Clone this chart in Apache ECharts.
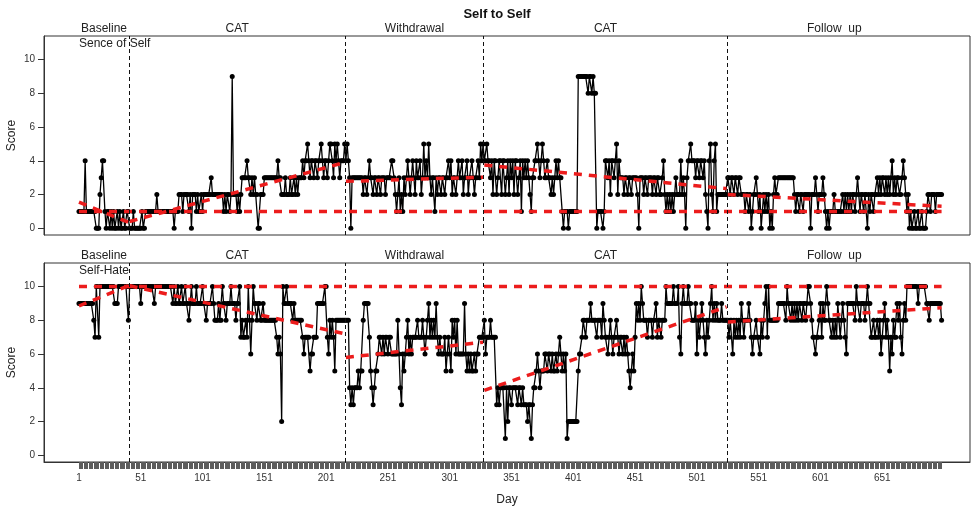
<!DOCTYPE html>
<html><head><meta charset="utf-8">
<script src="https://cdn.jsdelivr.net/npm/echarts@6/dist/echarts.min.js"></script>
<style>html,body{margin:0;padding:0;background:#fff}#c{width:971px;height:507px}</style>
</head><body><div id="c"></div>
<script>
const chartTitle = 'Self to Self';
const panelNames = ['Sence of Self', 'Self-Hate'];
const phaseNames = ['Baseline', 'CAT', 'Withdrawal', 'CAT', 'Follow  up'];
const xTickLabels = [1, 51, 101, 151, 201, 251, 301, 351, 401, 451, 501, 551, 601, 651];
const yTickLabels = [0, 2, 4, 6, 8, 10];

// Sense of Self, daily scores per phase
const selfBaseline = [1,1,1,1,1,4,1,1,1,1, 1,1,1,1,0,0,0,2,3,4, 4,1,0,1,1,0,1,0,1,0, 0,1,0,1,0,0,1,0,0,1, 1];
const selfCat1 = [0,0,0,1,0,0,0,0,0,0, 1,0,0,1,1,1,1,1,1,1, 1,1,2,1,1,1,1,1,1,1, 1,1,1,1,1,1,0,1,1,1,
  2,2,2,1,2,2,2,2,1,2, 0,2,2,2,1,2,1,1,2,1, 2,2,2,2,2,2,3,2,2,2, 2,2,2,2,2,2,1,2,1,2,
  2,1,2,9,2,2,2,1,2,1, 2,3,3,3,3,4,3,3,2,3, 2,3,2,2,0,0,2,2,2,3, 3,3,3,3,3,3,3,3,3,3,
  4,3,3,2,2,2,3,2,2,2, 3,2,2,3,2,3,2,3,3,3, 4,3,4,4,5,4,3,4,4,3, 4,4,3,4,4,5,4,3,4,4,
  3,4,5,5,4,3,5,4,5,4, 3,4,4,4,5];
const selfWithdrawal = [4,5,4,3,0,3,3,3,3,3, 3,3,3,3,2,3,3,2,3,4, 3,3,2,3,3,2,3,3,2,3, 3,3,2,3,3,3,3,4,4,3,
  2,1,2,3,1,2,1,3,2,3, 4,3,2,3,4,3,2,4,3,3, 4,2,3,5,3,4,3,5,3,2, 3,3,1,3,2,3,3,2,3,3,
  2,3,3,4,3,4,2,3,3,2, 3,4,3,3,4,2,3,3,4,2, 3,3,4,3,2,3,3,4,3,5, 4,5];
const selfCat2 = [4,4,5,4,4,3,4,2,4,4, 2,3,4,4,2,4,4,2,3,4, 2,4,3,4,2,4,4,2,3,4, 1,4,3,4,3,4,3,2,1,3,
  3,4,4,5,4,3,4,5,4,3, 3,4,3,3,2,3,2,3,4,3, 4,3,3,1,0,1,1,1,0,1, 1,1,1,1,1,1,9,9,9,9,
  9,9,9,9,8,9,9,8,9,8, 8,0,1,1,1,1,0,1,4,4, 3,4,2,4,4,3,4,5,2,4, 3,3,3,2,3,3,2,3,3,2,
  3,3,3,3,2,0,3,3,3,2, 3,3,2,3,3,3,2,3,3,2, 3,3,2,2,3,4,2,1,2,1, 2,1,2,1,2,3,2,2,2,4,
  2,3,2,0,3,4,4,5,4,4, 4,3,4,4,3,4,4,3,4,2, 1,0,4,5,2,1,4,5,1,2, 2,2,2,2,2,2,2];
const selfFollow = [3,3,2,3,3,2,3,3,2,3, 3,2,2,2,1,2,2,1,2,0, 1,2,2,3,2,1,2,0,1,2, 1,2,1,2,0,1,0,2,3,2,
  2,3,3,3,3,3,3,3,3,3, 3,3,3,3,2,1,2,2,1,2, 2,1,2,2,2,2,2,0,2,2, 2,3,2,1,2,2,2,3,2,1,
  0,1,0,1,1,1,2,1,1,1, 1,1,1,2,1,2,1,2,1,2, 1,2,2,1,2,3,2,1,2,2, 1,2,2,0,2,1,2,2,1,2,
  2,3,2,3,2,3,3,2,3,2, 3,2,3,4,2,3,2,3,3,2, 2,3,4,3,2,1,2,0,1,0, 0,1,0,0,1,0,0,1,0,0,
  0,1,2,2,1,2,2,2,1,2, 2,2,2,2];

// Self-Hate, daily scores per phase
const hateBaseline = [9,9,9,9,9,9,9,9,9,9, 9,9,8,7,10,10,7,10,10,10, 10,10,10,10,10,10,10,10,10,9, 9,9,10,10,10,10,10,10,10,10, 8];
const hateCat1 = [10,10,10,10,10,10,10,10,10,9, 10,10,10,10,10,10,10,10,10,10, 9,10,10,10,10,10,10,10,10,10, 10,10,10,10,10,9,10,9,9,10,
  9,9,10,9,9,10,9,9,8,9, 10,9,9,9,10,9,9,9,9,10, 9,9,8,9,9,9,9,10,9,8, 8,8,9,8,8,10,9,9,8,9,
  9,9,10,9,9,9,8,9,9,10, 7,8,7,7,8,7,10,8,6,8, 10,9,9,8,9,9,8,8,9,8, 8,8,8,8,8,8,8,8,8,7,
  6,7,6,2,10,9,9,10,9,9, 9,9,8,9,8,8,8,8,8,8, 7,6,7,7,7,7,5,6,6,7, 7,7,9,9,9,9,9,9,10,10,
  7,6,8,7,8,7,5,8,8,8, 8,8,8,8,8];
const hateWithdrawal = [8,8,8,4,3,4,3,4,4,4, 5,4,5,5,8,9,9,9,9,7, 5,4,3,4,5,5,6,7,7,6, 7,6,7,7,6,7,7,6,6,6,
  6,6,8,6,4,3,6,5,6,7, 8,6,7,6,7,7,7,7,8,7, 7,7,8,7,6,7,8,9,7,8, 7,8,7,9,7,6,7,6,6,6,
  7,5,6,7,6,5,8,7,8,6, 8,6,6,6,6,6,9,6,5,6, 5,6,5,5,6,5,6,6,7,7, 7,7];
const hateCat2 = [8,6,7,7,7,8,7,7,7,7, 3,4,3,4,4,4,4,1,4,2, 4,4,3,4,4,4,4,3,4,4, 3,4,3,3,3,2,3,3,1,3,
  4,4,5,6,5,4,5,5,5,6, 6,5,6,6,5,6,5,5,6,5, 6,7,6,5,6,5,6,1,2,2, 2,2,2,2,2,2,5,6,6,7,
  8,8,7,8,8,8,9,8,8,8, 8,7,8,8,8,7,9,8,7,7, 6,7,8,7,6,7,7,8,7,6, 7,7,6,7,6,7,6,5,4,5,
  6,5,7,9,8,9,8,10,9,8, 8,8,7,8,8,8,7,8,8,9, 7,8,8,7,8,8,8,10,9,9, 9,9,9,10,9,9,9,10,7,6,
  9,10,9,9,9,10,9,9,8,8, 8,9,6,8,7,8,9,8,7,6, 8,7,8,9,10,8,9,8,9,8, 8,8,9,8,8,8,8];
const hateFollow = [8,7,8,8,6,8,7,8,7,8, 7,9,8,7,8,8,8,9,8,7, 6,7,7,8,7,7,6,8,7,8, 9,10,7,10,8,8,8,8,8,8,
  8,9,9,9,9,9,9,8,10,9, 9,8,9,8,9,8,9,8,9,9, 8,9,9,8,9,10,10,9,8,7, 7,6,7,7,8,9,7,9,8,8,
  10,9,8,8,7,8,7,8,7,9, 8,7,8,9,8,7,6,9,9,9, 9,9,9,8,10,9,9,8,9,9, 9,8,9,10,9,9,7,7,8,7,
  7,8,7,8,6,7,8,9,7,8, 7,5,7,6,8,7,7,9,8,9, 7,6,8,9,8,10,10,10,10,10, 10,10,10,10,9,10,10,10,10,10,
  10,9,9,8,9,9,9,9,9,9, 9,9,9,8];

// Per-phase trend lines (value at first and last day of each phase) and reference level
const selfTrendStart = [1.55, 0.4, 2.78, 3.75, 2.0];
const selfTrendEnd   = [0.35, 3.9, 3.03, 2.35, 1.3];
const selfReference = 1;
const hateTrendStart = [8.85, 10.05, 5.8, 3.85, 7.9];
const hateTrendEnd   = [10.05, 7.2, 6.7, 8.8, 8.75];
const hateReference = 10;

const FONT = 'Liberation Sans, Arial, Helvetica, sans-serif';
const RED = '#ec1c1c';

function build(phases) {
  let d = 1; const pts = []; const ranges = [];
  phases.forEach(arr => { const s = d; arr.forEach(v => { pts.push([d, v]); d++; }); ranges.push([s, d - 1]); });
  const bounds = [];
  for (let i = 0; i < ranges.length - 1; i++) bounds.push(ranges[i][1] + 0.5);
  return { pts, ranges, bounds, last: d - 1 };
}
const panels = [
  Object.assign(build([selfBaseline, selfCat1, selfWithdrawal, selfCat2, selfFollow]),
    { ts: selfTrendStart, te: selfTrendEnd, ref: selfReference }),
  Object.assign(build([hateBaseline, hateCat1, hateWithdrawal, hateCat2, hateFollow]),
    { ts: hateTrendStart, te: hateTrendEnd, ref: hateReference })
];
const allDays = panels[1].pts.map(p => p[0]);

const XMIN = -27.3, XMAX = 722, YMIN = -0.4, YMAX = 11.4;
const grids = [
  { left: 44, right: 1, top: 36, height: 199 },
  { left: 44, right: 1, top: 263, height: 199 }
].map(g => Object.assign(g, { show: true, borderColor: '#333', borderWidth: 1, backgroundColor: 'transparent', containLabel: false, outerBoundsMode: 'none' }));

const xAxes = [0, 1].map(i => ({
  gridIndex: i, type: 'value', min: XMIN, max: XMAX,
  splitLine: { show: false },
  axisLine: { show: i === 1, onZero: false, lineStyle: { color: '#333' } },
  axisTick: i === 1 ? { show: true, customValues: allDays, length: 7, lineStyle: { color: '#5c5c5c', width: 1 } } : { show: false },
  axisLabel: i === 1 ? { show: true, customValues: xTickLabels, fontSize: 10, color: '#333', margin: 11, fontFamily: FONT } : { show: false },
  name: i === 1 ? 'Day' : '', nameLocation: 'middle', nameGap: 32, nameMoveOverlap: false,
  nameTextStyle: { fontSize: 12, color: '#222', fontFamily: FONT }
}));
const yAxes = [0, 1].map(i => ({
  gridIndex: i, type: 'value', min: YMIN, max: YMAX,
  splitLine: { show: false },
  axisLine: { show: true, onZero: false, lineStyle: { color: '#333' } },
  axisTick: { show: true, customValues: yTickLabels, length: 6, lineStyle: { color: '#333' } },
  axisLabel: { customValues: yTickLabels, fontSize: 10, color: '#333', margin: 9, fontFamily: FONT },
  name: 'Score', nameLocation: 'middle', nameGap: 26, nameMoveOverlap: false,
  nameTextStyle: { fontSize: 12, color: '#222', fontFamily: FONT }
}));

const series = [];
panels.forEach((p, i) => {
  series.push({
    type: 'line', xAxisIndex: i, yAxisIndex: i, data: p.pts,
    symbol: 'circle', symbolSize: 5, showAllSymbol: true,
    itemStyle: { color: '#000' }, lineStyle: { color: '#000', width: 1.3 },
    z: 2, silent: true,
    markLine: {
      silent: true, symbol: 'none', label: { show: false },
      lineStyle: { color: '#111', width: 1, type: [4, 3] },
      data: p.bounds.map(b => ({ xAxis: b }))
    }
  });
  series.push({
    type: 'line', xAxisIndex: i, yAxisIndex: i, data: [[1, p.ref], [p.last, p.ref]],
    showSymbol: false, lineStyle: { color: RED, width: 3.5, type: [8, 7] }, z: 4, silent: true
  });
  p.ranges.forEach((r, k) => {
    series.push({
      type: 'line', xAxisIndex: i, yAxisIndex: i, data: [[r[0], p.ts[k]], [r[1], p.te[k]]],
      showSymbol: false, lineStyle: { color: RED, width: 3.5, type: [8, 7] }, z: 4, silent: true
    });
  });
});

const chart = echarts.init(document.getElementById('c'), null, { renderer: 'canvas' });
chart.setOption({
  animation: false,
  textStyle: { fontFamily: FONT },
  grid: grids, xAxis: xAxes, yAxis: yAxes, series: series
});

const graphics = [];
graphics.push({ type: 'text', x: 497, y: 14, style: { text: chartTitle, fontSize: 13, fontWeight: 'bold', fill: '#111', textAlign: 'center', textVerticalAlign: 'middle', fontFamily: FONT } });
panels.forEach((p, i) => {
  const edges = [1].concat(p.bounds, [p.last]);
  for (let k = 0; k < phaseNames.length; k++) {
    const mid = (edges[k] + edges[k + 1]) / 2;
    const px = chart.convertToPixel({ gridIndex: i }, [mid, YMAX]);
    graphics.push({ type: 'text', x: px[0], y: px[1] - 7, style: { text: phaseNames[k], fontSize: 12, fill: '#222', textAlign: 'center', textVerticalAlign: 'middle', fontFamily: FONT } });
  }
  const lp = chart.convertToPixel({ gridIndex: i }, [1, YMAX]);
  graphics.push({ type: 'text', x: lp[0], y: lp[1] + 8, style: { text: panelNames[i], fontSize: 12, fill: '#222', textAlign: 'left', textVerticalAlign: 'middle', fontFamily: FONT } });
});
chart.setOption({ graphic: graphics });
</script>
</body></html>
